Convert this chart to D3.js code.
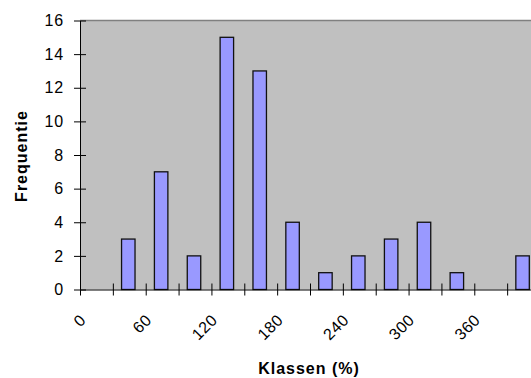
<!DOCTYPE html>
<html lang="nl">
<head>
<meta charset="UTF-8">
<title>Frequentie per klasse</title>
<script src="https://d3js.org/d3.v7.min.js"></script>
<style>
  body { margin: 0; background: #fff; }
  text { font-family: Arial, "Liberation Sans", sans-serif; fill: #000; }
</style>
</head>
<body>
<script>
// klassen (%) en frequenties
var categories = [0, 30, 60, 90, 120, 150, 180, 210, 240, 270, 300, 330, 360, 390];
var frequencies = [0, 3, 7, 2, 15, 13, 4, 1, 2, 3, 4, 1, 0, 2];
var yTicks = [0, 2, 4, 6, 8, 10, 12, 14, 16];
// alleen om de andere klasse een label
var xLabels = [0, 60, 120, 180, 240, 300, 360];

var width = 531, height = 378;
var plot = {left: 80, top: 20.5, bottom: 289.5, right: 540};

var svg = d3.select('body').append('svg')
    .attr('width', width)
    .attr('height', height);

var x = d3.scaleBand()
    .domain(categories)
    .range([plot.left, plot.right])
    .paddingInner(0.59)
    .paddingOuter(0.295);

var y = d3.scaleLinear()
    .domain([0, 16])
    .range([plot.bottom, plot.top]);

// grijze plotruimte
svg.append('rect')
    .attr('x', plot.left)
    .attr('y', plot.top)
    .attr('width', plot.right - plot.left)
    .attr('height', plot.bottom - plot.top)
    .attr('fill', '#c0c0c0');
svg.append('line')
    .attr('x1', plot.left).attr('x2', plot.right)
    .attr('y1', plot.top).attr('y2', plot.top)
    .attr('stroke', '#808080')
    .attr('stroke-width', 1.5);

// staven
svg.selectAll('rect.bar')
    .data(frequencies)
    .enter().append('rect')
    .attr('class', 'bar')
    .attr('x', function(d, i) { return x(categories[i]) - 1; })
    .attr('y', function(d) { return y(d); })
    .attr('width', x.bandwidth())
    .attr('height', function(d) { return y(0) - y(d); })
    .attr('fill', '#9999ff')
    .attr('stroke', '#111')
    .attr('stroke-width', 1.3);

// x-as: streepjes tussen de klassen
var step = x.step();
var bounds = d3.range(categories.length + 1);
var xb = d3.scaleLinear().domain([0, categories.length]).range([plot.left, plot.right]);
var xAxis = svg.append('g')
    .attr('transform', 'translate(0,' + plot.bottom + ')')
    .call(d3.axisBottom(xb).tickValues(bounds).tickFormat('').tickSizeOuter(0));
xAxis.select('.domain').attr('stroke', '#000');
xAxis.selectAll('.tick line').attr('y1', -6).attr('y2', 6).attr('stroke', '#000');

svg.selectAll('text.xlab')
    .data(xLabels)
    .enter().append('text')
    .attr('class', 'xlab')
    .attr('text-anchor', 'end')
    .attr('font-size', '16px')
    .attr('letter-spacing', '0.5px')
    .attr('transform', function(d) {
        var cx = x(d) + x.bandwidth() / 2 - 9.5;
        return 'translate(' + cx + ',321) rotate(-45)';
    })
    .text(function(d) { return d; });

// y-as
var yAxis = svg.append('g')
    .attr('transform', 'translate(' + plot.left + ',0)')
    .call(d3.axisLeft(y).tickValues(yTicks).tickSizeOuter(0));
yAxis.select('.domain').attr('stroke', '#000');
yAxis.selectAll('.tick line').attr('x1', -6).attr('x2', 6).attr('stroke', '#000');
yAxis.selectAll('.tick text')
    .attr('x', -16)
    .attr('font-size', '16px')
    .attr('letter-spacing', '0.8px')
    .attr('font-family', 'Arial, "Liberation Sans", sans-serif');

// astitels
svg.append('text')
    .attr('text-anchor', 'middle')
    .attr('font-size', '16px')
    .attr('font-weight', 'bold')
    .attr('letter-spacing', '1px')
    .attr('transform', 'translate(27,156) rotate(-90)')
    .text('Frequentie');

svg.append('text')
    .attr('x', 309)
    .attr('y', 374)
    .attr('text-anchor', 'middle')
    .attr('font-size', '16px')
    .attr('font-weight', 'bold')
    .attr('letter-spacing', '1px')
    .text('Klassen (%)');
</script>
</body>
</html>
